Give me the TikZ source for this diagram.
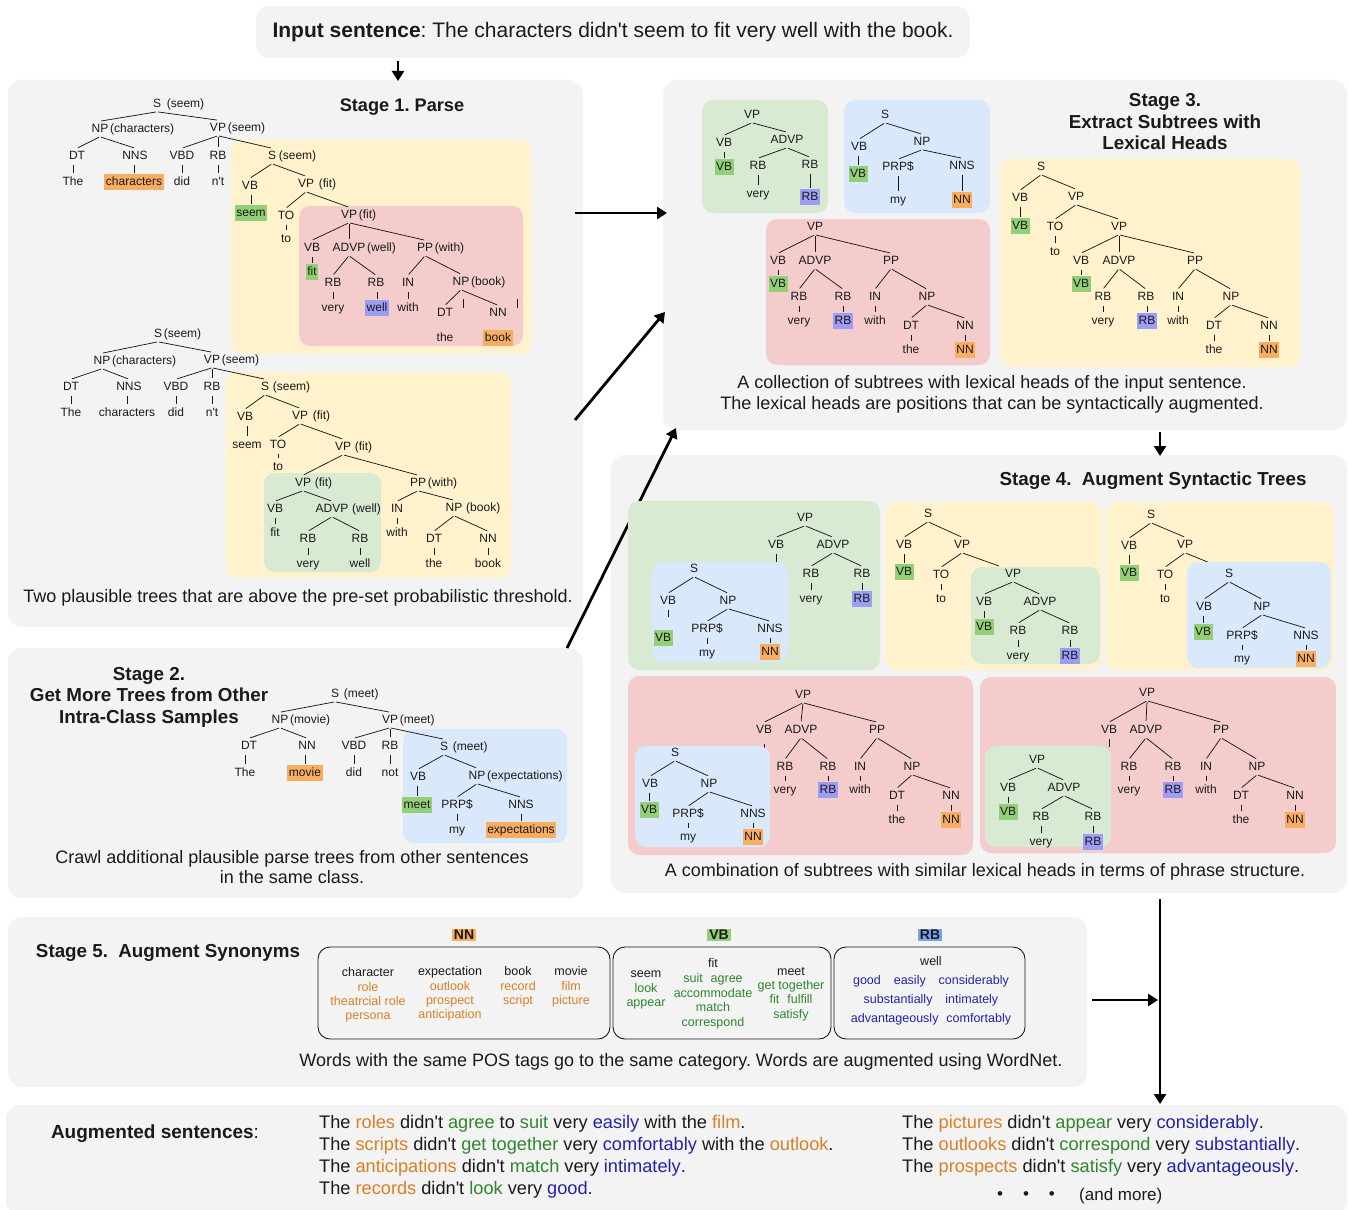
\documentclass[tikz,border=0pt]{standalone}
\usepackage{fontspec}
\setmainfont{Liberation Sans}
\usetikzlibrary{arrows.meta}
\frenchspacing
\definecolor{pgray}{HTML}{F3F3F3}
\definecolor{byel}{HTML}{FFF2CC}
\definecolor{bpink}{HTML}{F4CCCC}
\definecolor{bgreen}{HTML}{D9EAD3}
\definecolor{bblue}{HTML}{DAE8FC}
\definecolor{hor}{HTML}{F9AD63}
\definecolor{hgr}{HTML}{93CF77}
\definecolor{hbl}{HTML}{9D9DF8}
\definecolor{hrb}{HTML}{78A2EA}
\definecolor{tor}{HTML}{D97F26}
\definecolor{tgr}{HTML}{2E862E}
\definecolor{tbl}{HTML}{2323A8}
\definecolor{ink}{HTML}{1A1A1A}
\newcommand\TN[5][tl]{\node[#1] (#2) at (#3,#4) {#5};}
\newcommand\HW[3][]{\node[hw,#1] (#2h) at (#2.east) {#3};}
\newcommand\ED[2]{\foreach \ch in {#2}{\draw[tedge] (#1.south) -- (\ch.north);}}
\newcommand\LE[2]{\foreach \ch in {#2}{\draw[tedge] (\ch.north |- #1.south) -- (\ch.north);}}
\newcommand\colO[1]{\textcolor{tor}{#1}}
\newcommand\colG[1]{\textcolor{tgr}{#1}}
\newcommand\colB[1]{\textcolor{tbl}{#1}}
\newcommand\ap{\textquotesingle}
\begin{document}
\frenchspacing
\begin{tikzpicture}[x=1pt,y=-1pt,
 tl/.style={font=\fontsize{12}{12}\selectfont, text=ink, inner xsep=1.5pt, inner ysep=2pt, text height=8.8pt, text depth=2.4pt},
 hw/.style={tl, anchor=west, inner xsep=0pt},
 ho/.style={tl, fill=hor}, hg/.style={tl, fill=hgr}, hb/.style={tl, fill=hbl},
 tedge/.style={draw=ink, line width=0.75pt, shorten <=1pt, shorten >=1pt},
 panel/.style={fill=pgray, rounded corners=14pt},
 subbox/.style={rounded corners=11pt},
 ttl/.style={font=\fontsize{18.8}{21.5}\selectfont\bfseries, align=center, text=ink},
 capt/.style={font=\fontsize{18}{21}\selectfont, align=center, text=ink},
 syn/.style={font=\fontsize{12.5}{14.4}\selectfont, align=center, text=ink},
 augs/.style={font=\fontsize{18.2}{18}\selectfont, anchor=west, inner sep=0pt, text=ink},
 poslbl/.style={font=\fontsize{14}{14}\selectfont\bfseries, inner xsep=2pt, inner ysep=1.5pt, text=ink},
 synbox/.style={draw=ink, line width=0.9pt, rounded corners=12pt},
 bigarr/.style={line width=2.8pt, draw=black, -{Triangle[length=10pt,width=12pt]}}
]
\useasboundingbox (0,0) rectangle (1348,1209);
\fill[white] (0,0) rectangle (1348,1209);

% ---------- panels ----------
\fill[panel] (256,6) rectangle (970,58);
\fill[panel] (8,80) rectangle (583,627);
\fill[panel] (8,648) rectangle (583,898);
\fill[panel] (663,80) rectangle (1347,430);
\fill[panel] (611,455) rectangle (1347,893);
\fill[panel] (8,917) rectangle (1087,1087);
\fill[panel] (6,1105) rectangle (1347,1215);

\node[font=\fontsize{21}{21}\selectfont, text=ink] (inp) at (613,32) {\textbf{Input sentence}: The characters didn\ap t seem to fit very well with the book.};

% ---------- arrows ----------
\coordinate (r1a) at (398,61); \coordinate (r1b) at (398,81);
\coordinate (r2a) at (575,213); \coordinate (r2b) at (667,213);
\coordinate (r3a) at (575,420); \coordinate (r3b) at (665,312);
\coordinate (r4a) at (567,648); \coordinate (r4b) at (676,428);
\coordinate (r5a) at (1160,432); \coordinate (r5b) at (1160,456);
\coordinate (r6a) at (1160,899); \coordinate (r6b) at (1160,1104);
\coordinate (r7a) at (1092,1000); \coordinate (r7b) at (1158,1000);
\foreach \a/\b in {r1a/r1b,r2a/r2b,r3a/r3b,r4a/r4b,r5a/r5b,r6a/r6b,r7a/r7b}{\draw[bigarr] (\a) -- (\b);}

% ---------- Stage 1 ----------
\node[ttl,font=\fontsize{18.2}{21.5}\selectfont\bfseries] (t1) at (402,107) {Stage 1. Parse};
\fill[byel,subbox] (231,140) rectangle (531,354);
\fill[bpink,subbox] (299,206) rectangle (523,346);
\TN{A1}{157}{104}{S}\HW[xshift=4pt]{A1}{(seem)}
\TN{A2}{100}{129}{NP}\HW{A2}{(characters)}
\TN{A3}{218}{128}{VP}\HW{A3}{(seem)}
\TN{A4}{77}{156}{DT}\TN{A5}{135}{156}{NNS}\TN{A6}{182}{156}{VBD}\TN{A7}{218}{156}{RB}
\TN{A8}{73}{182}{The}\TN[ho]{A9}{134}{182}{characters}\TN{A10}{182}{182}{did}\TN{A11}{218}{182}{n\ap t}
\TN{A12}{272}{156}{S}\HW[xshift=1pt]{A12}{(seem)}
\TN{A13}{250}{186}{VB}\TN{A14}{306}{184}{VP}\HW[xshift=3pt]{A14}{(fit)}
\TN[hg]{A15}{251}{213}{seem}\TN{A16}{286}{216}{TO}\TN{A17}{286}{239}{to}
\TN{A18}{349}{215}{VP}\HW{A18}{(fit)}
\TN{A19}{312}{248}{VB}\TN{A20}{349}{248}{ADVP}\HW{A20}{(well)}\TN{A21}{425}{248}{PP}\HW{A21}{(with)}
\TN[hg]{A22}{312}{272}{fit}
\TN{A23}{333}{283}{RB}\TN{A24}{376}{283}{RB}\TN{A25}{408}{283}{IN}\TN{A26}{461}{282}{NP}\HW{A26}{(book)}
\TN{A27}{333}{308}{very}\TN[hb]{A28}{377}{308}{well}\TN{A29}{408}{308}{with}
\TN{A30}{445}{313}{DT}\TN{A31}{498}{313}{NN}
\TN{A32}{445}{338}{the}\TN[ho]{A33}{498}{338}{book}
\ED{A1}{A2,A3}\ED{A2}{A4,A5}\ED{A3}{A6,A7,A12}\LE{A4}{A8}\LE{A5}{A9}\LE{A6}{A10}\LE{A7}{A11}
\ED{A12}{A13,A14}\LE{A13}{A15}\ED{A14}{A16,A18}\LE{A16}{A17}\ED{A18}{A19,A20,A21}\LE{A19}{A22}
\ED{A20}{A23,A24}\ED{A21}{A25,A26}\LE{A23}{A27}\LE{A24}{A28}\LE{A25}{A29}\ED{A26}{A30,A31}
\draw[tedge,shorten <=0pt,shorten >=0pt] (463,299) -- (463,308);
\draw[tedge,shorten <=0pt,shorten >=0pt] (517,299) -- (517,308);

\fill[byel,subbox] (226,372) rectangle (511,578);
\fill[bgreen,subbox] (264,473) rectangle (381,572);
\TN{B1}{158}{334}{S}\HW{B1}{(seem)}
\TN{B2}{102}{361}{NP}\HW{B2}{(characters)}
\TN{B3}{212}{360}{VP}\HW{B3}{(seem)}
\TN{B4}{71}{387}{DT}\TN{B5}{129}{387}{NNS}\TN{B6}{176}{387}{VBD}\TN{B7}{212}{387}{RB}
\TN{B8}{71}{413}{The}\TN{B9}{127}{413}{characters}\TN{B10}{176}{413}{did}\TN{B11}{212}{413}{n\ap t}
\TN{B12}{265}{387}{S}\HW[xshift=2pt]{B12}{(seem)}
\TN{B13}{245}{417}{VB}\TN{B14}{300}{416}{VP}\HW[xshift=3pt]{B14}{(fit)}
\TN{B15}{247}{445}{seem}\TN{B16}{278}{445}{TO}\TN{B17}{278}{467}{to}
\TN{B18}{343}{447}{VP}\HW[xshift=2pt]{B18}{(fit)}
\TN{B19}{303}{483}{VP}\HW[xshift=2pt]{B19}{(fit)}\TN{B20}{418}{483}{PP}\HW{B20}{(with)}
\TN{B21}{275}{509}{VB}\TN{B22}{332}{509}{ADVP}\HW[xshift=2pt]{B22}{(well)}\TN{B23}{397}{509}{IN}\TN{B24}{454}{508}{NP}\HW[xshift=2pt]{B24}{(book)}
\TN{B25}{275}{533}{fit}\TN{B26}{397}{533}{with}
\TN{B27}{308}{539}{RB}\TN{B28}{360}{539}{RB}\TN{B29}{434}{539}{DT}\TN{B30}{488}{539}{NN}
\TN{B31}{308}{564}{very}\TN{B32}{360}{564}{well}\TN{B33}{434}{564}{the}\TN{B34}{488}{564}{book}
\ED{B1}{B2,B3}\ED{B2}{B4,B5}\ED{B3}{B6,B7,B12}\LE{B4}{B8}\LE{B5}{B9}\LE{B6}{B10}\LE{B7}{B11}
\ED{B12}{B13,B14}\LE{B13}{B15}\ED{B14}{B16,B18}\LE{B16}{B17}\ED{B18}{B19,B20}
\ED{B19}{B21,B22}\LE{B21}{B25}\ED{B22}{B27,B28}\LE{B27}{B31}\LE{B28}{B32}
\ED{B20}{B23,B24}\LE{B23}{B26}\ED{B24}{B29,B30}\LE{B29}{B33}\LE{B30}{B34}
\node[capt] (c1) at (298,598) {Two plausible trees that are above the pre-set probabilistic threshold.};

% ---------- Stage 2 ----------
\node[ttl] (t2) at (149,697) {Stage 2.\\Get More Trees from Other\\Intra-Class Samples};
\fill[bblue,subbox] (403,729) rectangle (567,843);
\TN{C1}{335}{694}{S}\HW[xshift=3pt]{C1}{(meet)}
\TN{C2}{280}{720}{NP}\HW{C2}{(movie)}
\TN{C3}{390}{720}{VP}\HW{C3}{(meet)}
\TN{C4}{249}{746}{DT}\TN{C5}{307}{746}{NN}\TN{C6}{354}{746}{VBD}\TN{C7}{390}{746}{RB}
\TN{C8}{245}{773}{The}\TN[ho]{C9}{305}{773}{movie}\TN{C10}{354}{773}{did}\TN{C11}{390}{773}{not}
\TN{C12}{444}{747}{S}\HW[xshift=3pt]{C12}{(meet)}
\TN{C13}{418}{777}{VB}\TN{C14}{477}{776}{NP}\HW{C14}{(expectations)}
\TN[hg]{C15}{417}{805}{meet}\TN{C16}{457}{805}{PRP\$}\TN{C17}{521}{805}{NNS}
\TN{C18}{457}{830}{my}\TN[ho]{C19}{521}{830}{expectations}
\ED{C1}{C2,C3}\ED{C2}{C4,C5}\ED{C3}{C6,C7,C12}\LE{C4}{C8}\LE{C5}{C9}\LE{C6}{C10}\LE{C7}{C11}
\ED{C12}{C13,C14}\LE{C13}{C15}\ED{C14}{C16,C17}\LE{C16}{C18}\LE{C17}{C19}
\node[capt,font=\fontsize{18}{20.5}\selectfont] (c2) at (292,867) {Crawl additional plausible parse trees from other sentences\\in the same class.};

% ---------- Stage 3 ----------
\node[ttl] (t3) at (1165,122) {Stage 3.\\Extract Subtrees with\\Lexical Heads};
\fill[bgreen,subbox] (702,100) rectangle (828,213);
\TN{D1}{752}{115}{VP}\TN{D2}{724}{143}{VB}\TN{D3}{787}{140}{ADVP}
\TN[hg]{D4}{724}{167}{VB}\TN{D5}{758}{166}{RB}\TN{D6}{810}{165}{RB}
\TN{D7}{758}{194}{very}\TN[hb]{D8}{810}{197}{RB}
\ED{D1}{D2,D3}\LE{D2}{D4}\ED{D3}{D5,D6}\LE{D5}{D7}\LE{D6}{D8}
\fill[bblue,subbox] (844,100) rectangle (990,213);
\TN{D11}{885}{115}{S}\TN{D12}{859}{147}{VB}\TN{D13}{922}{142}{NP}
\TN[hg]{D14}{858}{174}{VB}\TN{D15}{898}{167}{PRP\$}\TN{D16}{962}{166}{NNS}
\TN{D17}{898}{200}{my}\TN[ho]{D18}{962}{200}{NN}
\ED{D11}{D12,D13}\LE{D12}{D14}\ED{D13}{D15,D16}\LE{D15}{D17}\LE{D16}{D18}
\fill[bpink,subbox] (766,219) rectangle (990,365);
\TN{D21}{815}{227}{VP}\TN{D22}{778}{261}{VB}\TN{D23}{815}{261}{ADVP}\TN{D24}{891}{261}{PP}
\TN[hg]{D25}{778}{284}{VB}
\TN{D26}{799}{297}{RB}\TN{D27}{843}{297}{RB}\TN{D28}{875}{297}{IN}\TN{D29}{927}{297}{NP}
\TN{D30}{799}{321}{very}\TN[hb]{D31}{843}{321}{RB}\TN{D32}{875}{321}{with}
\TN{D33}{911}{326}{DT}\TN{D34}{965}{326}{NN}
\TN{D35}{911}{350}{the}\TN[ho]{D36}{965}{350}{NN}
\ED{D21}{D22,D23,D24}\LE{D22}{D25}\ED{D23}{D26,D27}\ED{D24}{D28,D29}\LE{D26}{D30}\LE{D27}{D31}\LE{D28}{D32}\ED{D29}{D33,D34}\LE{D33}{D35}\LE{D34}{D36}
\fill[byel,subbox] (1000,159) rectangle (1300,367);
\TN{D41}{1041}{167}{S}\TN{D42}{1020}{198}{VB}\TN{D43}{1076}{197}{VP}
\TN[hg]{D44}{1020}{226}{VB}\TN{D45}{1055}{227}{TO}\TN{D46}{1119}{227}{VP}\TN{D47}{1055}{252}{to}
\TN{D48}{1081}{261}{VB}\TN{D49}{1119}{261}{ADVP}\TN{D50}{1195}{261}{PP}
\TN[hg]{D51}{1081}{284}{VB}
\TN{D52}{1103}{297}{RB}\TN{D53}{1146}{297}{RB}\TN{D54}{1178}{297}{IN}\TN{D55}{1231}{297}{NP}
\TN{D56}{1103}{321}{very}\TN[hb]{D57}{1147}{321}{RB}\TN{D58}{1178}{321}{with}
\TN{D59}{1214}{326}{DT}\TN{D60}{1269}{326}{NN}
\TN{D61}{1214}{350}{the}\TN[ho]{D62}{1269}{350}{NN}
\ED{D41}{D42,D43}\LE{D42}{D44}\ED{D43}{D45,D46}\LE{D45}{D47}\ED{D46}{D48,D49,D50}\LE{D48}{D51}
\ED{D49}{D52,D53}\ED{D50}{D54,D55}\LE{D52}{D56}\LE{D53}{D57}\LE{D54}{D58}\ED{D55}{D59,D60}\LE{D59}{D61}\LE{D60}{D62}
\node[capt] (c3) at (992,394) {A collection of subtrees with lexical heads of the input sentence.\\The lexical heads are positions that can be syntactically augmented.};

% ---------- Stage 4 ----------
\node[ttl] (t4) at (1153,481) {Stage 4.\hspace{5pt} Augment Syntactic Trees};
% box 1
\fill[bgreen,subbox] (628,501) rectangle (880,670);
\TN{E1}{805}{518}{VP}\TN{E2}{776}{545}{VB}\TN{E3}{833}{545}{ADVP}
\TN{E4}{811}{574}{RB}\TN{E5}{862}{574}{RB}\TN{E6}{811}{599}{very}\TN[hb]{E7}{862}{599}{RB}
\coordinate (E2s) at (776,562);
\draw[tedge,shorten >=0pt] (E2.south) -- (E2s);
\ED{E1}{E2,E3}\ED{E3}{E4,E5}\LE{E4}{E6}\LE{E5}{E7}
\fill[bblue,subbox] (652,562) rectangle (788,662);
\TN{E11}{694}{569}{S}\TN{E12}{668}{601}{VB}\TN{E13}{728}{601}{NP}
\TN[hg]{E14}{663}{638}{VB}\TN{E15}{707}{629}{PRP\$}\TN{E16}{770}{629}{NNS}
\TN{E17}{707}{653}{my}\TN[ho]{E18}{770}{652}{NN}
\coordinate (E12s) at (668,617);
\draw[tedge,shorten >=0pt] (E12.south) -- (E12s);
\ED{E11}{E12,E13}\ED{E13}{E15,E16}\LE{E15}{E17}\LE{E16}{E18}
% box 2
\fill[byel,subbox] (885,502) rectangle (1102,670);
\TN{E21}{928}{514}{S}\TN{E22}{904}{545}{VB}\TN{E23}{962}{545}{VP}
\TN[hg]{E24}{904}{572}{VB}\TN{E25}{941}{575}{TO}\TN{E26}{941}{599}{to}
\coordinate (E23e) at (999,566);
\ED{E21}{E22,E23}\LE{E22}{E24}\ED{E23}{E25}\LE{E25}{E26}
\fill[bgreen,subbox] (971,567) rectangle (1100,664);
\draw[tedge,shorten >=0pt] (E23.south) -- (E23e);
\TN{E31}{1013}{574}{VP}\TN{E32}{984}{602}{VB}\TN{E33}{1040}{602}{ADVP}
\TN[hg]{E34}{984}{627}{VB}\TN{E35}{1018}{631}{RB}\TN{E36}{1070}{631}{RB}
\TN{E37}{1018}{656}{very}\TN[hb]{E38}{1070}{656}{RB}
\ED{E31}{E32,E33}\LE{E32}{E34}\ED{E33}{E35,E36}\LE{E35}{E37}\LE{E36}{E38}
% box 3
\fill[byel,subbox] (1106,502) rectangle (1334,670);
\TN{E41}{1151}{515}{S}\TN{E42}{1129}{546}{VB}\TN{E43}{1185}{545}{VP}
\TN[hg]{E44}{1129}{573}{VB}\TN{E45}{1165}{575}{TO}\TN{E46}{1165}{599}{to}
\coordinate (E43e) at (1210,563);
\draw[tedge,shorten >=0pt] (E43.south) -- (E43e);
\ED{E41}{E42,E43}\LE{E42}{E44}\ED{E43}{E45}\LE{E45}{E46}
\fill[bblue,subbox] (1187,562) rectangle (1331,668);
\TN{E51}{1229}{574}{S}\TN{E52}{1204}{607}{VB}\TN{E53}{1262}{607}{NP}
\TN[hg]{E54}{1203}{632}{VB}\TN{E55}{1242}{636}{PRP\$}\TN{E56}{1306}{636}{NNS}
\TN{E57}{1242}{659}{my}\TN[ho]{E58}{1306}{659}{NN}
\ED{E51}{E52,E53}\LE{E52}{E54}\ED{E53}{E55,E56}\LE{E55}{E57}\LE{E56}{E58}
% box 4
\fill[bpink,subbox] (628,676) rectangle (973,855);
\TN{E61}{803}{695}{VP}\TN{E62}{764}{730}{VB}\TN{E63}{801}{730}{ADVP}\TN{E64}{877}{730}{PP}
\TN{E65}{785}{767}{RB}\TN{E66}{828}{767}{RB}\TN{E67}{860}{767}{IN}\TN{E68}{912}{767}{NP}
\TN{E69}{785}{790}{very}\TN[hb]{E70}{828}{790}{RB}\TN{E71}{860}{790}{with}
\TN{E72}{897}{796}{DT}\TN{E73}{951}{796}{NN}
\TN{E74}{897}{820}{the}\TN[ho]{E75}{951}{820}{NN}
\coordinate (E62s) at (764,752);
\draw[tedge,shorten <=6pt,shorten >=0pt] (E62.south) -- (E62s);
\ED{E61}{E62,E63,E64}\ED{E63}{E65,E66}\ED{E64}{E67,E68}\LE{E65}{E69}\LE{E66}{E70}\LE{E67}{E71}\ED{E68}{E72,E73}\LE{E72}{E74}\LE{E73}{E75}
\fill[bblue,subbox] (635,746) rectangle (770,847);
\TN{E81}{675}{753}{S}\TN{E82}{650}{784}{VB}\TN{E83}{709}{784}{NP}
\TN[hg]{E84}{649}{810}{VB}\TN{E85}{688}{814}{PRP\$}\TN{E86}{753}{814}{NNS}
\TN{E87}{688}{837}{my}\TN[ho]{E88}{753}{837}{NN}
\ED{E81}{E82,E83}\LE{E82}{E84}\ED{E83}{E85,E86}\LE{E85}{E87}\LE{E86}{E88}
% box 5
\fill[bpink,subbox] (980,677) rectangle (1336,853);
\TN{E91}{1147}{693}{VP}\TN{E92}{1109}{730}{VB}\TN{E93}{1146}{730}{ADVP}\TN{E94}{1221}{730}{PP}
\TN{E95}{1129}{767}{RB}\TN{E96}{1173}{767}{RB}\TN{E97}{1206}{767}{IN}\TN{E98}{1257}{767}{NP}
\TN{E99}{1129}{790}{very}\TN[hb]{E100}{1173}{790}{RB}\TN{E101}{1206}{790}{with}
\TN{E102}{1241}{796}{DT}\TN{E103}{1295}{796}{NN}
\TN{E104}{1241}{820}{the}\TN[ho]{E105}{1295}{820}{NN}
\coordinate (E92s) at (1109,747);
\draw[tedge,shorten >=0pt] (E92.south) -- (E92s);
\ED{E91}{E92,E93,E94}\ED{E93}{E95,E96}\ED{E94}{E97,E98}\LE{E95}{E99}\LE{E96}{E100}\LE{E97}{E101}\ED{E98}{E102,E103}\LE{E102}{E104}\LE{E103}{E105}
\fill[bgreen,subbox] (985,746) rectangle (1111,847);
\TN{E111}{1037}{760}{VP}\TN{E112}{1008}{788}{VB}\TN{E113}{1064}{788}{ADVP}
\TN[hg]{E114}{1008}{812}{VB}\TN{E115}{1041}{817}{RB}\TN{E116}{1093}{817}{RB}
\TN{E117}{1041}{842}{very}\TN[hb]{E118}{1093}{842}{RB}
\ED{E111}{E112,E113}\LE{E112}{E114}\ED{E113}{E115,E116}\LE{E115}{E117}\LE{E116}{E118}
\node[capt] (c4) at (985,872) {A combination of subtrees with similar lexical heads in terms of phrase structure.};

% ---------- Stage 5 ----------
\node[ttl] (t5) at (168,953) {Stage 5.\hspace{5pt} Augment Synonyms};
\draw[synbox] (318,947) rectangle (610,1039);
\draw[synbox] (613,947) rectangle (831,1039);
\draw[synbox] (834,947) rectangle (1025,1039);
\node[poslbl,fill=hor] (lnn) at (464,935) {NN};
\node[poslbl,fill=hgr] (lvb) at (719,935) {VB};
\node[poslbl,fill=hrb] (lrb) at (930,935) {RB};
\node[syn] (s1) at (368,995) {character\\\colO{role}\\\colO{theatrcial role}\\\colO{persona}};
\node[syn] (s2) at (450,994) {expectation\\\colO{outlook}\\\colO{prospect}\\\colO{anticipation}};
\node[syn] (s3) at (518,987) {book\\\colO{record}\\\colO{script}};
\node[syn] (s4) at (571,987) {movie\\\colO{film}\\\colO{picture}};
\node[syn] (s5) at (646,990) {seem\\\colG{look}\\\colG{appear}};
\node[syn,font=\fontsize{12.5}{14.7}\selectfont] (s6) at (713,994) {fit\\\colG{suit \hspace{1pt} agree}\\\colG{accommodate}\\\colG{match}\\\colG{correspond}};
\node[syn] (s7) at (791,994) {meet\\\colG{get together}\\\colG{fit \hspace{1pt} fulfill}\\\colG{satisfy}};
\node[syn,font=\fontsize{12.5}{19}\selectfont] (s8) at (931,991) {well\\\colB{good \hspace{6pt} easily \hspace{6pt} considerably}\\\colB{substantially \hspace{6pt} intimately}\\\colB{advantageously \hspace{1pt} comfortably}};
\node[capt] (c5) at (681,1062) {Words with the same POS tags go to the same category. Words are augmented using WordNet.};

% ---------- Augmented sentences ----------
\node[font=\fontsize{19}{19}\selectfont, text=ink] (augt) at (155,1134) {\textbf{Augmented sentences}:};
\node[augs] (g1) at (319,1124) {The \colO{roles} didn\ap t \colG{agree} to \colG{suit} very \colB{easily} with the \colO{film}.};
\node[augs] (g2) at (319,1146) {The \colO{scripts} didn\ap t \colG{get together} very \colB{comfortably} with the \colO{outlook}.};
\node[augs] (g3) at (319,1168) {The \colO{anticipations} didn\ap t \colG{match} very \colB{intimately}.};
\node[augs] (g4) at (319,1190) {The \colO{records} didn\ap t \colG{look} very \colB{good}.};
\node[augs] (g5) at (902,1124) {The \colO{pictures} didn\ap t \colG{appear} very \colB{considerably}.};
\node[augs] (g6) at (902,1146) {The \colO{outlooks} didn\ap t \colG{correspond} very \colB{substantially}.};
\node[augs] (g7) at (902,1168) {The \colO{prospects} didn\ap t \colG{satisfy} very \colB{advantageously}.};
\node[font=\fontsize{17}{17}\selectfont, text=ink] (dots) at (1026,1196) {•\hspace{20pt}•\hspace{20pt}•};
\node[augs,font=\fontsize{17}{17}\selectfont] (more) at (1079,1196) {(and more)};
\end{tikzpicture}
\end{document}
